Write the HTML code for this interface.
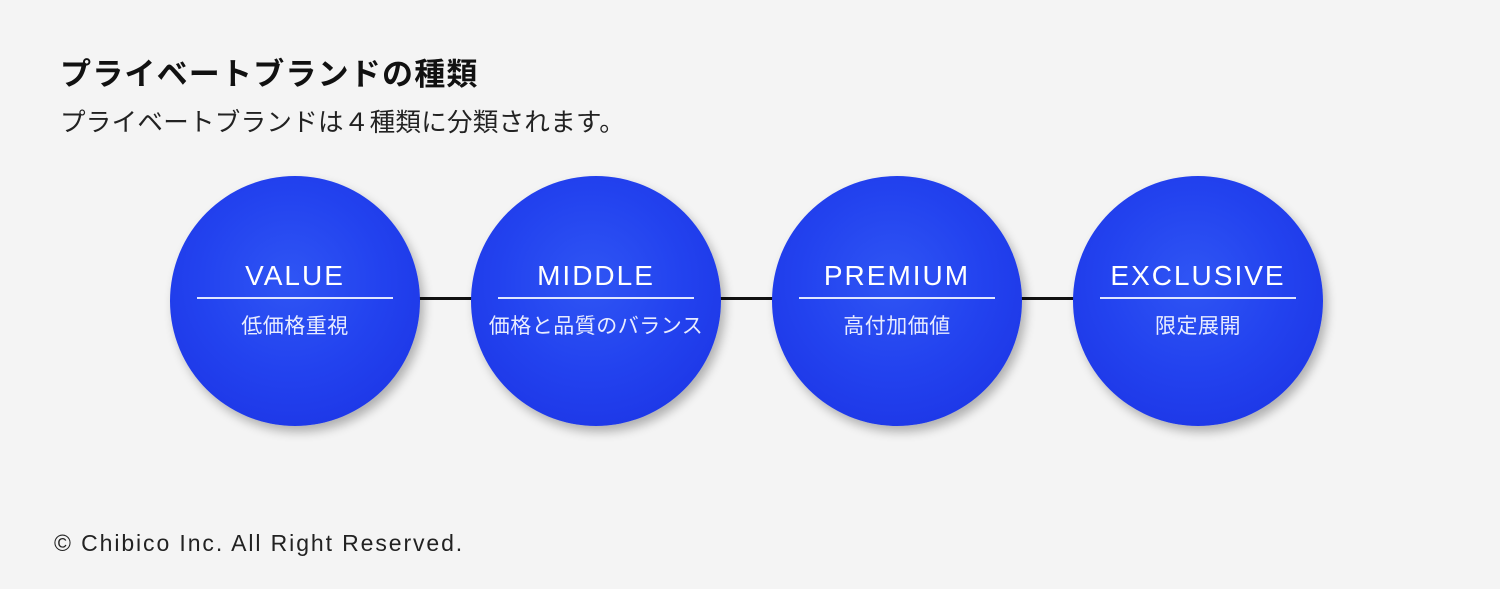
<!DOCTYPE html>
<html><head><meta charset="utf-8"><style>
html,body{margin:0;padding:0}
body{width:1500px;height:589px;background:#f4f4f4;position:relative;overflow:hidden;font-family:"Liberation Sans","Noto Sans CJK JP",sans-serif;color:#111}
.t1{position:absolute;left:60px;top:49px;font-size:31px;font-weight:bold;letter-spacing:1.2px}
.t2{position:absolute;left:60px;top:102px;font-size:25.5px;color:#222;letter-spacing:0.3px}
.line{position:absolute;left:400px;top:297px;width:700px;height:3px;background:#111}
.c{position:absolute;top:176px;width:250px;height:250px;border-radius:50%;background:radial-gradient(circle at 48% 42%,#2f55f4 0%,#2343ef 45%,#1a30e2 100%);box-shadow:4px 6px 10px rgba(0,0,0,0.28);color:#fff;text-align:center}
.c .h{position:absolute;left:0;right:0;top:83px;font-size:28px;letter-spacing:2px;line-height:34px}
.c .u{position:absolute;left:27px;right:27px;top:121px;height:1.5px;background:#dfe6ff}
.c .s{position:absolute;left:0;right:0;top:138px;font-size:21px;line-height:26px;color:#e8ecff;letter-spacing:0.5px}
.cp{position:absolute;left:54px;top:530px;font-size:23px;color:#222;letter-spacing:1.9px}
</style></head><body>
<div class="t1">プライベートブランドの種類</div>
<div class="t2">プライベートブランドは４種類に分類されます。</div>
<div class="line"></div>
<div class="c" style="left:170px"><div class="h">VALUE</div><div class="u"></div><div class="s">低価格重視</div></div>
<div class="c" style="left:471px"><div class="h">MIDDLE</div><div class="u"></div><div class="s">価格と品質のバランス</div></div>
<div class="c" style="left:772px"><div class="h">PREMIUM</div><div class="u"></div><div class="s">高付加価値</div></div>
<div class="c" style="left:1073px"><div class="h">EXCLUSIVE</div><div class="u"></div><div class="s">限定展開</div></div>
<div class="cp">© Chibico Inc. All Right Reserved.</div>
</body></html>
